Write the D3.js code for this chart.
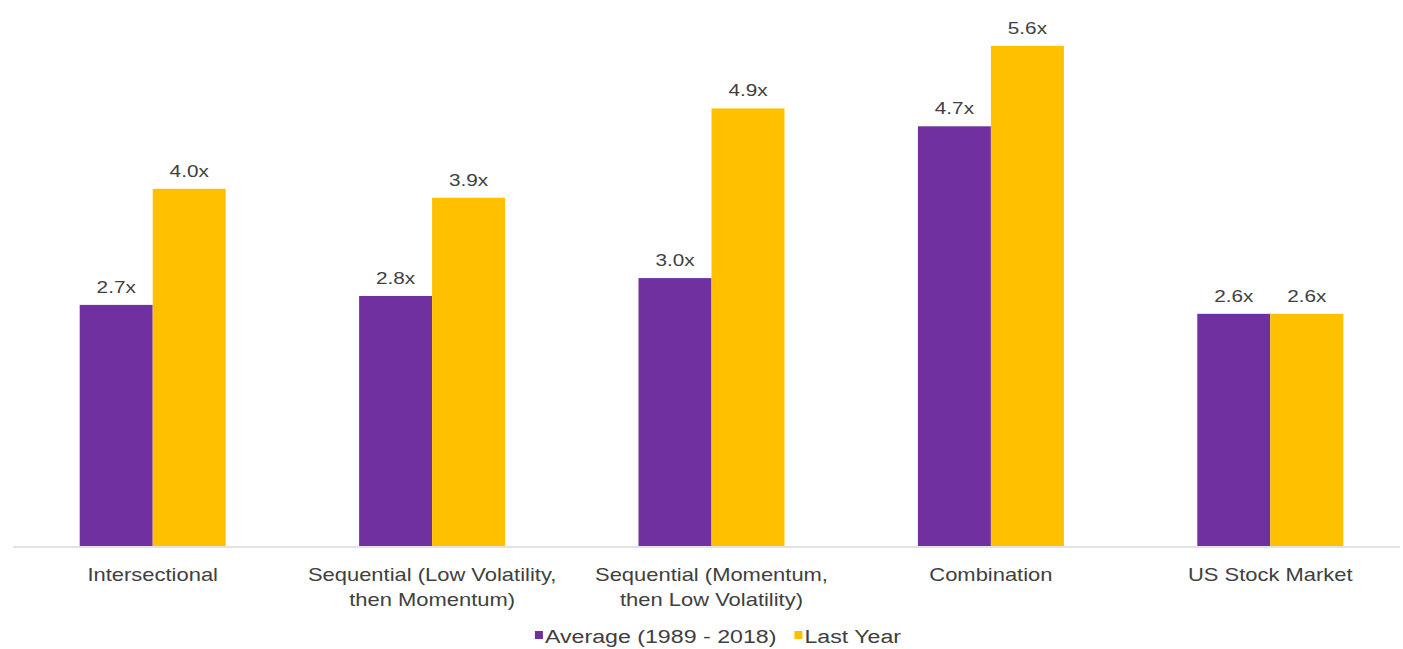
<!DOCTYPE html>
<html>
<head>
<meta charset="utf-8">
<script src="https://cdn.jsdelivr.net/npm/d3@7"></script>
<style>
  html, body { margin: 0; padding: 0; background: #ffffff; }
  svg { display: block; }
  text { font-family: "Liberation Sans", Arial, sans-serif; fill: #404040; }
</style>
</head>
<body>
<svg id="chart" width="1403" height="649"></svg>
<script>
// Category labels (may wrap onto two lines)
const categories = [
  ["Intersectional"],
  ["Sequential (Low Volatility,", "then Momentum)"],
  ["Sequential (Momentum,", "then Low Volatility)"],
  ["Combination"],
  ["US Stock Market"]
];
const seriesNames = ["Average (1989 - 2018)", "Last Year"];
const averageValues = [2.7, 2.8, 3.0, 4.7, 2.6];
const lastYearValues = [4.0, 3.9, 4.9, 5.6, 2.6];
const seriesColors = ["#7030A0", "#FFC000"];

const svg = d3.select("#chart");
const plot = { left: 13, right: 1410, top: 10, bottom: 546 };
const stretch = 1.22; // horizontal text stretch

const x0 = d3.scaleBand()
  .domain(d3.range(categories.length))
  .range([plot.left, plot.right]);

const groupWidth = 146;
const x1 = d3.scaleBand()
  .domain([0, 1])
  .range([0, groupWidth]);

const y = d3.scaleLinear().domain([0, 6]).range([plot.bottom, plot.bottom - 6 * 89.3]);

const rows = categories.map((c, i) => ({
  i, vals: [averageValues[i], lastYearValues[i]]
}));

const groups = svg.append("g").selectAll("g")
  .data(rows).join("g")
  .attr("transform", d => `translate(${x0(d.i) + (x0.bandwidth() - groupWidth) / 2},0)`);

groups.selectAll("rect")
  .data(d => d.vals.map((v, s) => ({ v, s })))
  .join("rect")
  .attr("x", d => x1(d.s))
  .attr("y", d => y(d.v))
  .attr("width", x1.bandwidth())
  .attr("height", d => y(0) - y(d.v))
  .attr("fill", d => seriesColors[d.s]);

groups.selectAll("text.val")
  .data(d => d.vals.map((v, s) => ({ v, s })))
  .join("text")
  .attr("class", "val")
  .attr("text-anchor", "middle")
  .attr("font-size", 17)
  .attr("transform", d => `translate(${x1(d.s) + x1.bandwidth() / 2},${y(d.v) - 12}) scale(${stretch},1)`)
  .text(d => d.v.toFixed(1) + "x");

// Baseline axis
const xAxis = d3.axisBottom(x0).tickSize(0).tickFormat("");
const axisG = svg.append("g").attr("transform", `translate(0,${plot.bottom + 1})`).call(xAxis);
axisG.select(".domain").attr("stroke", "#d9d9d9").attr("stroke-width", 1.5)
  .attr("d", `M${plot.left},0H1400`);

// Category labels
const catG = svg.append("g");
categories.forEach((lines, i) => {
  const cx = x0(i) + x0.bandwidth() / 2;
  lines.forEach((ln, j) => {
    catG.append("text")
      .attr("text-anchor", "middle")
      .attr("font-size", 18)
      .attr("transform", `translate(${cx},${581 + j * 25}) scale(${stretch},1)`)
      .text(ln);
  });
});

// Legend, centred under the chart
const legend = svg.append("g");
const legendFont = 19;
const legendGap = 18;
let lx = 0;
const items = seriesNames.map((name, s) => {
  const g = legend.append("g").attr("transform", `translate(${lx},0)`);
  g.append("rect").attr("x", 0).attr("y", 631).attr("width", 8).attr("height", 8).attr("fill", seriesColors[s]);
  const t = g.append("text")
    .attr("font-size", legendFont)
    .attr("transform", `translate(10,643) scale(${stretch},1)`)
    .text(name);
  const w = 10 + t.node().getComputedTextLength() * stretch;
  lx += w + legendGap;
  return w;
});
const legendWidth = d3.sum(items) + legendGap * (items.length - 1);
legend.attr("transform", `translate(${718 - legendWidth / 2},0)`);
</script>
</body>
</html>
